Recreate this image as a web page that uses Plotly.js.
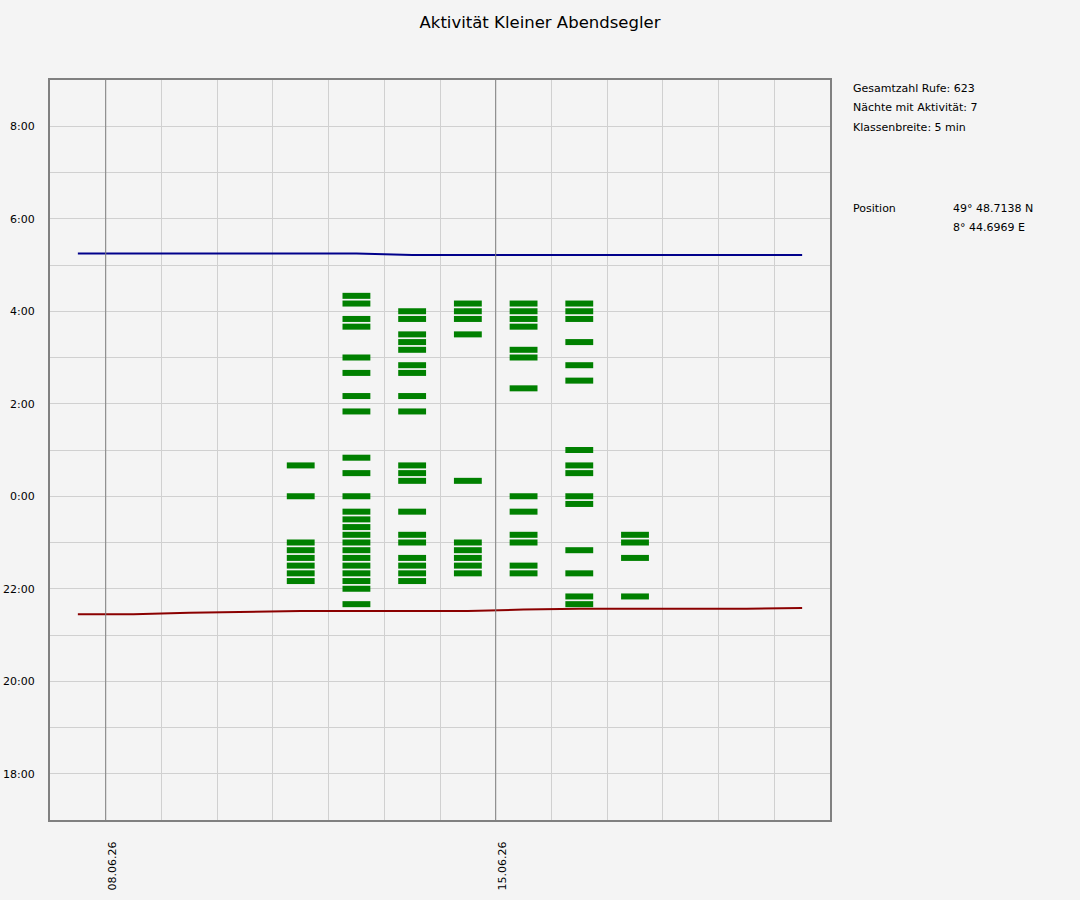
<!DOCTYPE html>
<html>
<head>
<meta charset="utf-8">
<script src="https://cdn.plot.ly/plotly-3.0.1.min.js"></script>
<style>
  html, body { margin: 0; padding: 0; background: #f4f4f4; }
  #chart { width: 1080px; height: 900px; }
</style>
</head>
<body>
<div id="chart"></div>
<script>
// ── Data ────────────────────────────────────────────────────────────
// Nights with activity (column = date of the evening, drawn at noon)
const nights = ['2026-06-11', '2026-06-12', '2026-06-13', '2026-06-14',
                '2026-06-15', '2026-06-16', '2026-06-17'];

// 5-min classes with calls, per night
const calls_1106 = ['00:40', '00:00', '23:00', '22:50', '22:40', '22:30', '22:20', '22:10'];
const calls_1206 = ['04:20', '04:10', '03:50', '03:40', '03:00', '02:40', '02:10', '01:50',
                    '00:50', '00:30', '00:00', '23:40', '23:30', '23:20', '23:10', '23:00',
                    '22:50', '22:40', '22:30', '22:20', '22:10', '22:00', '21:40'];
const calls_1306 = ['04:00', '03:50', '03:30', '03:20', '03:10', '02:50', '02:40', '02:10',
                    '01:50', '00:40', '00:30', '00:20', '23:40', '23:10', '23:00', '22:40',
                    '22:30', '22:20', '22:10'];
const calls_1406 = ['04:10', '04:00', '03:50', '03:30', '00:20', '23:00', '22:50', '22:40',
                    '22:30', '22:20'];
const calls_1506 = ['04:10', '04:00', '03:50', '03:40', '03:10', '03:00', '02:20', '00:00',
                    '23:40', '23:10', '23:00', '22:30', '22:20'];
const calls_1606 = ['04:10', '04:00', '03:50', '03:20', '02:50', '02:30', '01:00', '00:40',
                    '00:30', '00:00', '23:50', '22:50', '22:20', '21:50', '21:40'];
const calls_1706 = ['23:10', '23:00', '22:40', '21:50'];
const callsPerNight = [calls_1106, calls_1206, calls_1306, calls_1406,
                       calls_1506, calls_1606, calls_1706];

// Sunrise / sunset per day
const sunDays = ['2026-06-07', '2026-06-08', '2026-06-09', '2026-06-10', '2026-06-11',
                 '2026-06-12', '2026-06-13', '2026-06-14', '2026-06-15', '2026-06-16',
                 '2026-06-17', '2026-06-18', '2026-06-19', '2026-06-20'];
const sunrise = ['05:15', '05:15', '05:15', '05:15', '05:15', '05:15', '05:13',
                 '05:13', '05:13', '05:13', '05:13', '05:13', '05:13', '05:13'];
const sunset  = ['21:27', '21:27', '21:29', '21:30', '21:31', '21:31', '21:31',
                 '21:31', '21:33', '21:34', '21:34', '21:34', '21:34', '21:35'];

// Axis days and labels
const gridDays  = ['2026-06-07', '2026-06-08', '2026-06-09', '2026-06-10', '2026-06-11',
                   '2026-06-12', '2026-06-13', '2026-06-14', '2026-06-15', '2026-06-16',
                   '2026-06-17', '2026-06-18', '2026-06-19', '2026-06-20', '2026-06-21'];
const weekDays  = ['2026-06-08', '2026-06-15'];
const weekLabels = ['08.06.26', '15.06.26'];
const hourTicks = [-6, -5, -4, -3, -2, -1, 0, 1, 2, 3, 4, 5, 6, 7, 8];
const hourLabels = ['18:00', '', '20:00', '', '22:00', '', '0:00', '', '2:00', '', '4:00', '', '6:00', '', '8:00'];

const infoLines = ['Gesamtzahl Rufe: 623', 'Nächte mit Aktivität: 7', 'Klassenbreite: 5 min'];
const positionLines = ['49° 48.7138 N', '8° 44.6969 E'];

// ── Helpers ─────────────────────────────────────────────────────────
const BAR_H = 0.13;             // bar thickness in hours
const BAR_W = 12 * 3600 * 1000; // half a day
const FONT = 'DejaVu Sans, Verdana, sans-serif';

// "HH:MM" → hours relative to midnight (evening negative)
function toHours(s) {
    const [h, m] = s.split(':').map(Number);
    let v = h + m / 60;
    if (v >= 12) v -= 24;
    return v;
}
const atNoon = d => d + ' 12:00';

// ── Traces ──────────────────────────────────────────────────────────
const barX = [], barBase = [], barY = [];
callsPerNight.forEach((list, i) => {
    list.forEach(t => {
        barX.push(atNoon(nights[i]));
        barBase.push(toHours(t) - BAR_H / 2);
        barY.push(BAR_H);
    });
});

const data = [
    { type: 'bar', x: barX, y: barY, base: barBase, width: BAR_W,
      marker: { color: '#008000', line: { width: 0 } }, hoverinfo: 'skip' },
    { type: 'scatter', mode: 'lines', x: sunDays.map(atNoon), y: sunrise.map(toHours),
      line: { color: '#00008b', width: 2 }, hoverinfo: 'skip' },
    { type: 'scatter', mode: 'lines', x: sunDays.map(atNoon), y: sunset.map(toHours),
      line: { color: '#8b0000', width: 2 }, hoverinfo: 'skip' }
];

// tick labels: only week starts get text
const dayText = gridDays.map(d => {
    const k = weekDays.indexOf(d);
    return k >= 0 ? weekLabels[k] : '';
});

// darker week lines (no bars sit on them)
const shapes = weekDays.map(d => ({
    type: 'line', xref: 'x', yref: 'paper', x0: d, x1: d, y0: 0, y1: 1,
    line: { color: '#808080', width: 1 }, layer: 'above'
}));

// right-hand info text (paper coords, plot area 50..830 x 80..820)
const px = x => (x - 50) / 780;
const py = y => (820 - y) / 740;
const annFont = { family: FONT, size: 11, color: '#000' };
const annotations = [];
infoLines.forEach((t, i) => annotations.push({
    xref: 'paper', yref: 'paper', x: px(851), y: py(88 + i * 19.5), text: t,
    xanchor: 'left', yanchor: 'middle', showarrow: false, font: annFont }));
annotations.push({ xref: 'paper', yref: 'paper', x: px(851), y: py(208), text: 'Position',
    xanchor: 'left', yanchor: 'middle', showarrow: false, font: annFont });
positionLines.forEach((t, i) => annotations.push({
    xref: 'paper', yref: 'paper', x: px(951), y: py(208 + i * 19.5), text: t,
    xanchor: 'left', yanchor: 'middle', showarrow: false, font: annFont }));

const layout = {
    width: 1080, height: 900,
    margin: { l: 50, r: 250, t: 80, b: 80 },
    paper_bgcolor: '#f4f4f4', plot_bgcolor: '#f4f4f4',
    font: { family: FONT, size: 11, color: '#000' },
    showlegend: false,
    barmode: 'overlay',
    title: { text: 'Aktivität Kleiner Abendsegler', xref: 'container', yref: 'container',
             x: 0.5, y: 1 - 22 / 900, xanchor: 'center', yanchor: 'middle',
             font: { family: FONT, size: 16.5, color: '#000' } },
    xaxis: {
        type: 'date', range: [gridDays[0], gridDays[gridDays.length - 1]],
        tickvals: gridDays, ticktext: dayText, tickangle: -90,
        showgrid: true, gridcolor: '#d0d0d0', gridwidth: 1,
        showline: true, linecolor: '#808080', linewidth: 2, mirror: true,
        zeroline: false, ticks: '', ticklabelstandoff: 15, ticklabelshift: 7,
        tickfont: { family: FONT, size: 11 }, fixedrange: true
    },
    yaxis: {
        range: [-7, 9], tickvals: hourTicks, ticktext: hourLabels,
        showgrid: true, gridcolor: '#d0d0d0', gridwidth: 1,
        showline: true, linecolor: '#808080', linewidth: 2, mirror: true,
        zeroline: false, ticks: '', ticklabelstandoff: 11,
        tickfont: { family: FONT, size: 11 }, fixedrange: true
    },
    shapes: shapes,
    annotations: annotations
};

Plotly.newPlot('chart', data, layout, { staticPlot: true, displayModeBar: false });
</script>
</body>
</html>
